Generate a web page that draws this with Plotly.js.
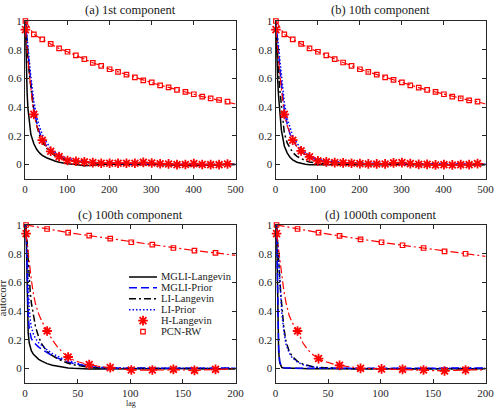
<!DOCTYPE html>
<html>
<head>
<meta charset="utf-8">
<script src="https://cdn.plot.ly/plotly-3.0.1.min.js"></script>
<style>
  html, body { margin: 0; padding: 0; background: #ffffff; }
  #chart { width: 498px; height: 409px; }
</style>
</head>
<body>
<div id="chart"></div>
<script>
// ---- lag grids ----
const lagsAB = [1,2,3,5,7,10,14,21,28,35,41,51,61,71,81,91,101,121,141,161,181,201,221,241,261,281,301,321,341,361,381,401,421,441,461,481,500];
const pcnLagsAB = [1,21,41,61,81,101,121,141,161,181,201,221,241,261,281,301,321,341,361,381,401,421,441,461,481,500];
const lagsCD = [1,2,3,4,5,6,8,10,13,16,21,26,31,36,41,46,51,56,61,71,81,91,101,111,121,131,141,151,161,171,181,191,200];
const pcnLagsCD = [1,21,41,61,81,101,121,141,161,181,200];

// ---- tick labels ----
const xTicksAB = [0,100,200,300,400,500];
const xTicksCD = [0,50,100,150,200];
const yTicks = [0,0.2,0.4,0.6,0.8,1];

const seriesNames = ['MGLI-Langevin','MGLI-Prior','LI-Langevin','LI-Prior','H-Langevin','PCN-RW'];
const panelTitles = ['(a) 1st component','(b) 10th component','(c) 100th component','(d) 1000th component'];

// ---- (a) 1st component ----
const a_mgliL = [1,0.82,0.68,0.5,0.39,0.29,0.21,0.145,0.105,0.08,0.065,0.048,0.035,0.025,0.016,0.01,0.006,0.001,-0.008,-0.004,0.002,0.004,0.002,0,-0.002,0,0.003,0.001,-0.002,-0.004,-0.006,-0.008,-0.004,-0.001,0.001,0.002,0.001];
const a_mgliP = [1,0.96,0.92,0.84,0.77,0.68,0.57,0.39,0.29,0.22,0.18,0.13,0.095,0.072,0.055,0.043,0.034,0.025,0.018,0.013,0.01,0.008,0.007,0.006,0.005,0.004,0.003,0.002,0.001,0,-0.002,-0.003,-0.003,-0.001,0,0.002,0.003];
const a_liL = [1,0.95,0.9,0.82,0.74,0.64,0.53,0.37,0.27,0.2,0.16,0.115,0.085,0.063,0.048,0.037,0.03,0.021,0.015,0.01,0.007,0.006,0.005,0.004,0.003,0.003,0.002,0.001,0,-0.001,-0.002,-0.003,-0.002,-0.001,0,0.001,0.001];
const a_liP = [1,0.97,0.94,0.87,0.8,0.71,0.61,0.44,0.33,0.26,0.21,0.155,0.115,0.088,0.068,0.054,0.043,0.03,0.022,0.016,0.012,0.01,0.009,0.008,0.007,0.006,0.005,0.004,0.003,0.002,0.001,0,0,0.001,0.002,0.003,0.003];
const a_hL = [0.94,0.9,0.87,0.8,0.73,0.64,0.53,0.35,0.27,0.21,0.17,0.125,0.093,0.072,0.056,0.04,0.029,0.024,0.019,0.014,0.01,0.01,0.01,0.01,0.01,0.016,0.011,0.006,0.005,0,0.001,0.007,0.001,0,0,0.004,0.003];
const a_pcn = [1.0,0.907,0.872,0.841,0.809,0.786,0.76,0.734,0.709,0.688,0.664,0.646,0.627,0.608,0.587,0.573,0.552,0.538,0.52,0.506,0.49,0.473,0.462,0.45,0.438,0.422];

// ---- (b) 10th component ----
const b_mgliL = [1,0.85,0.74,0.6,0.49,0.37,0.24,0.13,0.08,0.05,0.033,0.017,0.008,0.003,0,-0.001,0,0,0.001,0,-0.001,0,0.001,0,0,0.001,0,-0.001,0,0,0.001,0,0,-0.001,0,0.001,0];
const b_mgliP = [1,0.96,0.92,0.84,0.77,0.68,0.57,0.38,0.28,0.21,0.17,0.125,0.092,0.068,0.052,0.04,0.031,0.022,0.016,0.012,0.01,0.008,0.007,0.006,0.006,0.008,0.008,0.006,0.004,0.003,0.002,0.002,0.002,0.003,0.003,0.004,0.004];
const b_liL = [1,0.93,0.87,0.76,0.66,0.53,0.4,0.22,0.15,0.11,0.085,0.058,0.04,0.028,0.019,0.013,0.009,0.005,0.002,0,0,0.001,0,-0.001,0,0.001,0.002,0.001,0,0,-0.001,0,0,0.001,0,0,0];
const b_liP = [1,0.97,0.94,0.87,0.8,0.71,0.61,0.43,0.32,0.25,0.2,0.15,0.11,0.085,0.065,0.05,0.04,0.028,0.021,0.016,0.013,0.011,0.01,0.009,0.009,0.01,0.01,0.008,0.006,0.005,0.004,0.004,0.004,0.005,0.005,0.006,0.006];
const b_hL = [0.94,0.9,0.87,0.8,0.73,0.64,0.53,0.35,0.27,0.21,0.17,0.125,0.096,0.072,0.054,0.038,0.026,0.019,0.014,0.012,0.01,0.007,0.005,0.005,0.005,0.012,0.014,0.007,0.002,0.002,-0.002,0,-0.002,0,0,0.007,0.005];
const b_pcn = [1.0,0.907,0.872,0.841,0.809,0.786,0.76,0.734,0.711,0.688,0.664,0.646,0.627,0.608,0.59,0.573,0.552,0.536,0.52,0.506,0.49,0.473,0.462,0.448,0.438,0.422];

// ---- (c) 100th component ----
const c_mgliL = [1,0.45,0.25,0.18,0.145,0.125,0.1,0.083,0.065,0.052,0.035,0.024,0.016,0.01,0.005,0.002,0,-0.002,-0.003,-0.002,0,0.001,0,-0.001,0,0,0.001,0,0,0.001,0,0,0];
const c_mgliP = [1,0.62,0.38,0.28,0.23,0.21,0.185,0.17,0.15,0.135,0.11,0.09,0.073,0.058,0.046,0.036,0.027,0.02,0.014,0.007,0.004,0.003,0.004,0.003,0.002,0.001,0.002,0.001,0.002,0.003,0.005,0.004,0.003];
const c_liL = [1,0.86,0.74,0.63,0.53,0.46,0.36,0.29,0.22,0.17,0.12,0.09,0.068,0.05,0.037,0.027,0.02,0.014,0.009,0.004,0.001,0,0,0.001,0,0,0.001,0,0,0,0.001,0,0];
const c_liP = [1,0.75,0.55,0.42,0.34,0.29,0.24,0.21,0.18,0.16,0.13,0.105,0.085,0.068,0.055,0.043,0.033,0.025,0.018,0.01,0.006,0.004,0.003,0.003,0.002,0.002,0.002,0.002,0.003,0.003,0.004,0.004,0.004];
const c_hL = [0.94,0.87,0.8,0.73,0.67,0.62,0.52,0.45,0.38,0.33,0.262,0.2,0.15,0.11,0.081,0.06,0.046,0.036,0.028,0.015,0.007,-0.003,-0.009,-0.01,-0.009,-0.007,-0.005,-0.009,-0.012,-0.008,-0.005,-0.002,0];
const c_pcn = [1.0,0.972,0.947,0.926,0.905,0.88,0.863,0.84,0.822,0.806,0.789];

// ---- (d) 1000th component ----
const d_mgliL = [1,0.45,0.12,0.04,0.015,0.008,0.005,0.004,0.003,0.002,0.002,0.001,0,0.001,0.001,0,0,0.001,0,0,0.001,0,0,0.001,0,0,0,0.001,0,0,0,0.001,0];
const d_mgliP = [1,0.5,0.15,0.05,0.02,0.01,0.006,0.005,0.004,0.003,0.003,0.002,0.002,0.003,0.002,0.001,0.002,0.002,0.001,0.002,0.003,0.002,0.001,0.002,0.003,0.002,0.001,0.002,0.003,0.002,0.003,0.004,0.004];
const d_liL = [1,0.9,0.78,0.64,0.52,0.42,0.28,0.19,0.12,0.085,0.05,0.032,0.02,0.013,0.008,0.005,0.003,0.002,0.001,0,0,0.001,0,0,0.001,0,0,0,0,0.001,0,0,0];
const d_liP = [1,0.88,0.75,0.61,0.49,0.39,0.26,0.17,0.11,0.075,0.045,0.028,0.018,0.011,0.007,0.004,0.002,0.001,0.001,0.001,0.002,0.002,0.001,0.002,0.002,0.001,0.002,0.003,0.002,0.002,0.003,0.003,0.003];
const d_hL = [0.94,0.88,0.81,0.75,0.69,0.63,0.54,0.46,0.37,0.32,0.262,0.18,0.13,0.095,0.07,0.052,0.04,0.03,0.023,0.01,0.002,0,-0.002,-0.003,-0.005,-0.006,-0.009,-0.012,-0.016,-0.012,-0.009,-0.008,-0.01];
const d_pcn = [1.0,0.972,0.947,0.924,0.9,0.88,0.859,0.84,0.817,0.8,0.782];

// ---- styles ----
const RED = '#ff0000', BLUE = '#0000ff', BLACK = '#000000';
const lineStyles = [
  {color: BLACK, width: 1.5, dash: 'solid'},
  {color: BLUE,  width: 1.5, dash: '8px,4px'},
  {color: BLACK, width: 1.5, dash: '7px,3px,2px,3px'},
  {color: BLUE,  width: 1.5, dash: '1.5px,2px'},
  {color: RED,   width: 1.2, dash: '8px,3px,2px,3px'},
  {color: RED,   width: 1.2, dash: '8px,3px,2px,3px'}
];
const starMarker = {symbol: 'asterisk-open', size: 8, color: RED, line: {color: RED, width: 1.8}};
const squareMarker = {symbol: 'square-open', size: 4.5, color: RED, line: {color: RED, width: 1.2}};

// marker positions: every 20th lag starting at lag 1
function markerPoints(lags, vals) {
  const x = [], y = [];
  lags.forEach((l, i) => { if ((l - 1) % 20 === 0) { x.push(l); y.push(vals[i]); } });
  return {x, y};
}

const traces = [];
function addPanel(n, lags, pcnLags, series) {
  const xa = n === 1 ? 'x' : 'x' + n;
  const ya = n === 1 ? 'y' : 'y' + n;
  series.forEach((vals, k) => {
    traces.push({
      type: 'scatter', mode: 'lines', xaxis: xa, yaxis: ya,
      x: k === 5 ? pcnLags : lags, y: vals, name: seriesNames[k],
      line: lineStyles[k], hoverinfo: 'skip'
    });
  });
  const h = markerPoints(lags, series[4]);
  const p = markerPoints(pcnLags, series[5]);
  traces.push({type: 'scatter', mode: 'markers', xaxis: xa, yaxis: ya, x: p.x, y: p.y,
               marker: squareMarker, cliponaxis: false, hoverinfo: 'skip'});
  traces.push({type: 'scatter', mode: 'markers', xaxis: xa, yaxis: ya, x: h.x, y: h.y,
               marker: starMarker, cliponaxis: false, hoverinfo: 'skip'});
}

addPanel(1, lagsAB, pcnLagsAB, [a_mgliL, a_mgliP, a_liL, a_liP, a_hL, a_pcn]);
addPanel(2, lagsAB, pcnLagsAB, [b_mgliL, b_mgliP, b_liL, b_liP, b_hL, b_pcn]);
addPanel(3, lagsCD, pcnLagsCD, [c_mgliL, c_mgliP, c_liL, c_liP, c_hL, c_pcn]);
addPanel(4, lagsCD, pcnLagsCD, [d_mgliL, d_mgliP, d_liL, d_liP, d_hL, d_pcn]);

// ---- legend drawn inside panel (c) on its own hidden axes ----
const legendRows = [0,1,2,3,4,5];
[0,1,2,3].forEach(k => {
  traces.push({type: 'scatter', mode: 'lines', xaxis: 'x5', yaxis: 'y5',
               x: [0, 1], y: [legendRows[k], legendRows[k]], line: lineStyles[k], hoverinfo: 'skip'});
});
traces.push({type: 'scatter', mode: 'markers', xaxis: 'x5', yaxis: 'y5',
             x: [0.5], y: [legendRows[4]], marker: starMarker, hoverinfo: 'skip'});
traces.push({type: 'scatter', mode: 'markers', xaxis: 'x5', yaxis: 'y5',
             x: [0.5], y: [legendRows[5]], marker: squareMarker, hoverinfo: 'skip'});

// ---- layout ----
const W = 498, H = 409;
const xdom = (l, r) => [l / W, r / W];
const ydom = (t, b) => [1 - b / H, 1 - t / H];
const SERIF = 'Liberation Serif';
const AXC = '#262626';

function axis(extra) {
  return Object.assign({
    showline: true, mirror: 'ticks', linecolor: AXC, linewidth: 1,
    ticks: 'inside', ticklen: 4, tickwidth: 1, tickcolor: AXC,
    showgrid: false, zeroline: false, fixedrange: true,
    tickfont: {family: SERIF, size: 11, color: AXC}
  }, extra);
}
const yAxis = (dom, anchor) => axis({domain: dom, anchor: anchor, range: [-0.1, 1],
  tickmode: 'array', tickvals: yTicks, ticktext: yTicks.map(String)});
const xAxis = (dom, anchor, ticks) => axis({domain: dom, anchor: anchor,
  range: [0, ticks[ticks.length - 1]], tickmode: 'array', tickvals: ticks, ticktext: ticks.map(String)});

const colL = xdom(25, 235.5), colR = xdom(275.5, 485.5);
const rowT = ydom(21, 179), rowB = ydom(225, 383);

const annotations = [];
const titleSpots = [[colL, 10], [colR, 10], [colL, 215], [colR, 215]];
panelTitles.forEach((t, i) => {
  const [dom, py] = titleSpots[i];
  annotations.push({text: t, xref: 'paper', yref: 'paper', x: (dom[0] + dom[1]) / 2, y: 1 - py / H,
    xanchor: 'center', yanchor: 'middle', showarrow: false,
    font: {family: SERIF, size: 12.5, color: '#1a1a1a'}});
});
seriesNames.forEach((s, k) => {
  annotations.push({text: s, xref: 'paper', yref: 'y5', x: 159 / W, y: legendRows[k],
    xanchor: 'left', yanchor: 'middle', showarrow: false,
    font: {family: SERIF, size: 10.5, color: '#1a1a1a'}});
});
annotations.push({text: 'autocorr', xref: 'paper', yref: 'paper', x: 1.5 / W, y: 1 - 298 / H,
  xanchor: 'center', yanchor: 'middle', textangle: -90, showarrow: false,
  font: {family: SERIF, size: 11, color: AXC}});
annotations.push({text: 'lag', xref: 'paper', yref: 'paper', x: 131 / W, y: 0,
  xanchor: 'center', yanchor: 'bottom', showarrow: false, borderpad: 0,
  font: {family: SERIF, size: 8, color: AXC}});

const layout = {
  width: W, height: H,
  margin: {l: 0, r: 0, t: 0, b: 0},
  paper_bgcolor: '#ffffff', plot_bgcolor: '#ffffff',
  showlegend: false,
  xaxis: xAxis(colL, 'y', xTicksAB), yaxis: yAxis(rowT, 'x'),
  xaxis2: xAxis(colR, 'y2', xTicksAB), yaxis2: yAxis(rowT, 'x2'),
  xaxis3: xAxis(colL, 'y3', xTicksCD), yaxis3: yAxis(rowB, 'x3'),
  xaxis4: xAxis(colR, 'y4', xTicksCD), yaxis4: yAxis(rowB, 'x4'),
  xaxis5: {domain: xdom(129, 157), anchor: 'y5', range: [0, 1], visible: false, fixedrange: true},
  yaxis5: {domain: ydom(271.5, 337), anchor: 'x5', range: [5.5, -0.5], visible: false, fixedrange: true},
  annotations: annotations
};

Plotly.newPlot('chart', traces, layout, {displayModeBar: false, staticPlot: true});
</script>
</body>
</html>
